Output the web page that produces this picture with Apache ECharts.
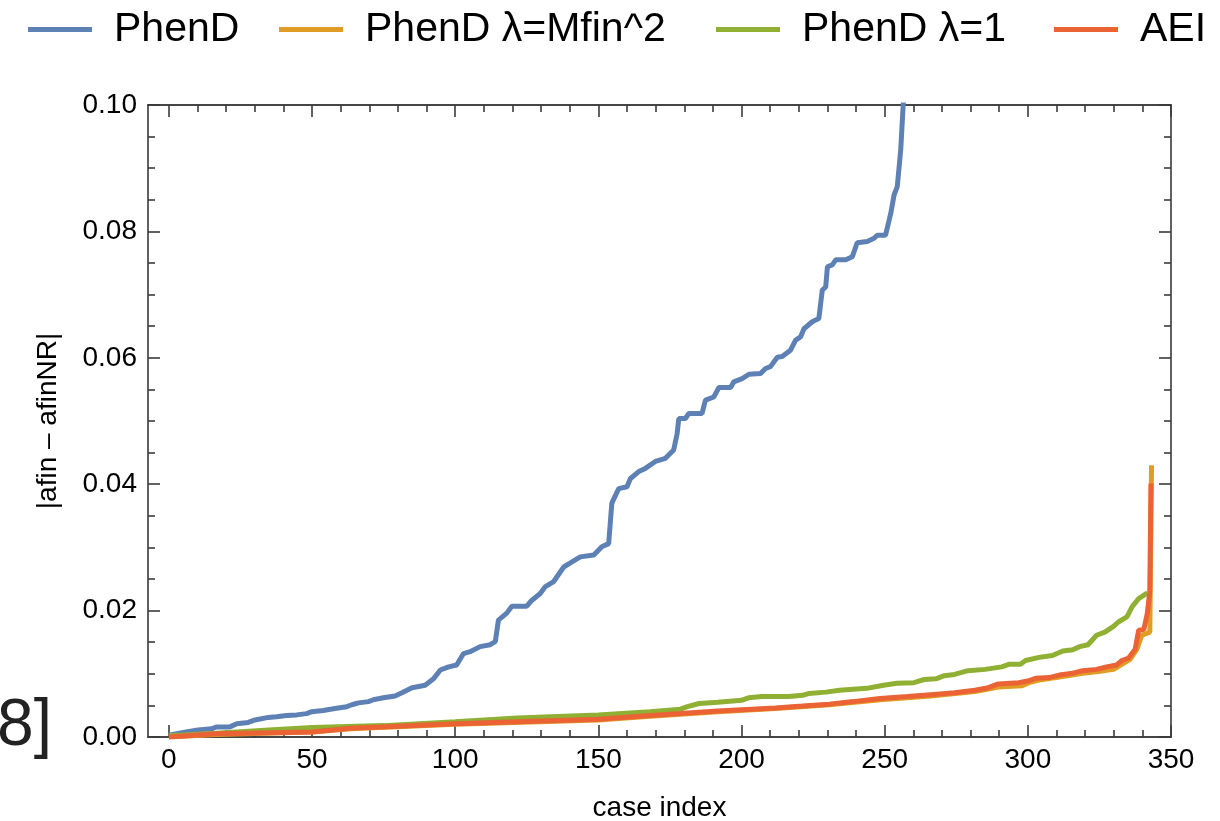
<!DOCTYPE html>
<html>
<head>
<meta charset="utf-8">
<script src="https://cdn.jsdelivr.net/npm/echarts@6/dist/echarts.min.js"></script>
<style>
html,body{margin:0;padding:0;background:#fff;}
#chart{width:1220px;height:821px;}
</style>
</head>
<body>
<div id="chart"></div>
<script>
// ---- Data ----
const seriesNames = ['PhenD', 'PhenD \u03bb=Mfin^2', 'PhenD \u03bb=1', 'AEI'];

const phenDX = [0,5,10.2,14.9,16.7,21.3,23.7,27.7,30.1,34.7,37.6,41.1,44.6,48.1,49.9,53.9,58,62.1,63.9,66.2,69.7,71.4,74.9,79,81.4,84.9,89.5,92.4,94.8,97.7,100.5,102.9,105.2,108.7,112.2,114,115.1,118,119.8,125,126.7,129.7,131.5,134.4,137.9,140.8,143.7,148.4,151.2,153.6,154.7,157.1,160,161.2,164.1,166.4,169.9,173.4,176.3,177.5,178.1,180.4,181.6,186.2,187.4,190.3,192.1,196.2,197.3,200.2,202.6,206.6,208.4,210.1,212.5,214.2,217.1,218.9,220.6,221.8,224.7,227,228.2,229.4,230,231.7,232.9,236.4,238.7,240.4,243.9,246.3,247.4,250.3,252.1,253.3,254.4,255.6,256.5,257.5];
const phenDY = [0.0003,0.0007,0.0011,0.0013,0.0016,0.0016,0.0021,0.0023,0.0027,0.0031,0.0032,0.0034,0.0035,0.0037,0.0040,0.0042,0.0045,0.0048,0.0051,0.0054,0.0056,0.0059,0.0062,0.0065,0.0070,0.0078,0.0082,0.0092,0.0106,0.0111,0.0114,0.0132,0.0135,0.0143,0.0146,0.0151,0.0185,0.0196,0.0207,0.0207,0.0216,0.0227,0.0238,0.0246,0.0269,0.0277,0.0285,0.0288,0.0301,0.0306,0.0370,0.0393,0.0396,0.0409,0.0420,0.0425,0.0436,0.0441,0.0454,0.0480,0.0504,0.0504,0.0512,0.0512,0.0533,0.0538,0.0553,0.0553,0.0562,0.0567,0.0574,0.0575,0.0583,0.0586,0.0601,0.0602,0.0612,0.0628,0.0633,0.0646,0.0657,0.0662,0.0707,0.0712,0.0744,0.0747,0.0755,0.0755,0.0760,0.0782,0.0784,0.0789,0.0794,0.0794,0.0828,0.0858,0.0871,0.0929,0.1003,0.108];

const mfinX = [0,16.5,50,63.5,100,150,168.1,191.7,211.8,230.7,248.4,266.1,281.5,286.2,289.7,298,300.4,303.9,311,319.2,325.2,329.9,332.8,335.7,338.1,339.8,342.6,343.2];
const mfinY = [0.0000,0.0004,0.0008,0.0013,0.0020,0.0027,0.0033,0.0040,0.0045,0.0051,0.0059,0.0065,0.0072,0.0076,0.0079,0.0081,0.0086,0.0090,0.0095,0.0101,0.0104,0.0107,0.0115,0.0123,0.0139,0.0161,0.0166,0.0430];

const lam1X = [0,16.5,35,50,75,100,121.7,150,168.1,178.7,181.1,185.2,191.7,200,202.4,207.1,216.5,221.3,223.6,229.5,234.2,243.7,249.6,254.3,260.2,263.8,267.9,270.8,274.4,279.1,285,290.9,293.3,297.4,299.2,303.9,308.6,312.2,315.7,318.1,321,324,326.9,329.9,331.6,334.6,336.4,338.7,341.1,341.8];
const lam1Y = [0.0002,0.0006,0.0011,0.0015,0.0018,0.0024,0.0030,0.0035,0.0040,0.0044,0.0048,0.0053,0.0055,0.0058,0.0062,0.0064,0.0064,0.0066,0.0069,0.0071,0.0074,0.0077,0.0082,0.0085,0.0086,0.0091,0.0092,0.0097,0.0099,0.0105,0.0107,0.0111,0.0115,0.0115,0.0121,0.0126,0.0129,0.0136,0.0138,0.0143,0.0146,0.0161,0.0166,0.0175,0.0182,0.0190,0.0206,0.0219,0.0226,0.0228];

const aeiX = [0,16.5,50,63.5,100,150,168.1,178.7,191.7,203.5,211.8,221.3,230.7,239,248.4,257.9,266.1,274.4,281.5,286.2,289.7,296.8,300.4,302.7,307.4,311,315.7,319.2,324,327.5,331,332.8,335.2,337.5,338.7,340.5,341.7,342.6,343];
const aeiY = [0.0000,0.0005,0.0008,0.0014,0.0021,0.0028,0.0034,0.0037,0.0041,0.0044,0.0046,0.0049,0.0052,0.0056,0.0061,0.0064,0.0067,0.0070,0.0074,0.0078,0.0084,0.0086,0.0089,0.0093,0.0094,0.0098,0.0101,0.0105,0.0107,0.0111,0.0114,0.0121,0.0125,0.0139,0.0169,0.0170,0.0195,0.0230,0.0401];

const xMajorTicks = [0,50,100,150,200,250,300,350];
const xMinorTicks = [10,20,30,40,60,70,80,90,110,120,130,140,160,170,180,190,210,220,230,240,260,270,280,290,310,320,330,340];
const colors = ['#5E81B5', '#E19C24', '#8FB032', '#EB6235'];

// ---- Chart ----
const zip = (xs, ys) => xs.map((x, i) => [x, ys[i]]);
const FONT = 'Liberation Sans, Arial, Helvetica, sans-serif';
const frame = {color: '#3a3a3a', width: 1.6};

function xAxisDef(pos, ticks, len, labels) {
  return {
    type: 'value', min: -7.3, max: 350, position: pos,
    axisLine: {show: true, onZero: false, lineStyle: frame},
    axisTick: {show: true, inside: true, length: len, customValues: ticks, lineStyle: frame},
    axisLabel: labels ? {show: true, customValues: ticks, fontSize: 28, color: '#000', fontFamily: FONT, margin: 9}
                      : {show: false},
    splitLine: {show: false}
  };
}
function yAxisDef(pos, labels) {
  return {
    type: 'value', min: 0, max: 0.1, interval: 0.02, position: pos,
    axisLine: {show: true, onZero: false, lineStyle: frame},
    axisTick: {show: true, inside: true, length: 12, lineStyle: frame},
    minorTick: {show: true, splitNumber: 4, length: 7, lineStyle: frame},
    axisLabel: labels ? {show: true, fontSize: 28, color: '#000', fontFamily: FONT, margin: 11,
                         formatter: v => v.toFixed(2)} : {show: false},
    splitLine: {show: false}, minorSplitLine: {show: false}
  };
}

const xMain = xAxisDef('bottom', xMajorTicks, 12, true);
xMain.name = 'case index';
xMain.nameLocation = 'middle';
xMain.nameGap = 57;
xMain.nameTextStyle = {fontSize: 28, color: '#000', fontFamily: FONT};

const yMain = yAxisDef('left', true);
yMain.name = '|afin \u2013 afinNR|';
yMain.nameLocation = 'middle';
yMain.nameGap = 86;
yMain.nameTextStyle = {fontSize: 28, color: '#000', fontFamily: FONT};

const legendLefts = [23, 274, 711, 1049];
const legends = seriesNames.map((n, i) => ({
  data: [n], left: legendLefts[i], top: 4, orient: 'horizontal',
  icon: 'rect', itemWidth: 64, itemHeight: 5,
  textStyle: {fontSize: 41, color: '#000', fontFamily: FONT, padding: [0, 0, 0, 17]},
  selectedMode: false
}));

const seriesData = [zip(phenDX, phenDY), zip(mfinX, mfinY), zip(lam1X, lam1Y), zip(aeiX, aeiY)];

const chart = echarts.init(document.getElementById('chart'), null, {renderer: 'canvas'});
chart.setOption({
  animation: false,
  backgroundColor: '#fff',
  color: colors,
  legend: legends,
  grid: {left: 148, right: 49, top: 105, bottom: 84, containLabel: false, outerBoundsMode: 'none'},
  xAxis: [
    xMain,
    xAxisDef('bottom', xMinorTicks, 7, false),
    xAxisDef('top', xMajorTicks, 12, false),
    xAxisDef('top', xMinorTicks, 7, false)
  ],
  yAxis: [yMain, yAxisDef('right', false)],
  graphic: [{
    type: 'text', x: 52, y: 727,
    style: {text: '8]', font: '66px ' + FONT, fill: '#222', textAlign: 'right', textVerticalAlign: 'middle'}
  }],
  series: seriesNames.map((n, i) => ({
    name: n, type: 'line', xAxisIndex: 0, yAxisIndex: 0,
    data: seriesData[i], showSymbol: false, symbol: 'none', clip: true,
    lineStyle: {width: 5, color: colors[i]}, itemStyle: {color: colors[i]},
    z: 2 + i
  }))
});
</script>
</body>
</html>
